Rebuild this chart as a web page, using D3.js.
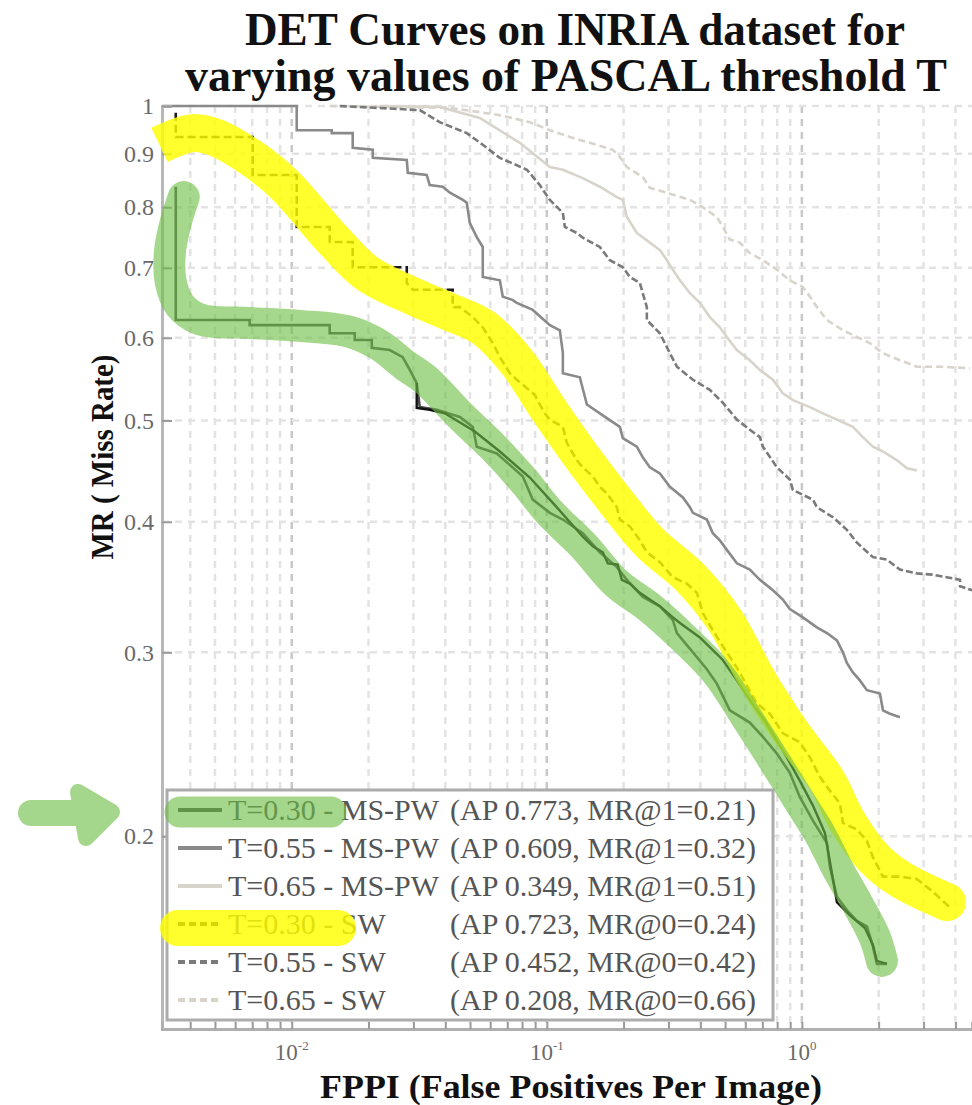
<!DOCTYPE html>
<html>
<head>
<meta charset="utf-8">
<script src="https://cdn.jsdelivr.net/npm/d3@7"></script>
<style>
  body { margin: 0; background: #fff; }
  svg { display: block; }
</style>
</head>
<body>
<svg id="chart" width="972" height="1105"></svg>
<script>
// ---- Series: [FPPI, miss rate] pairs ----
const msPw030 = [[0.00351,0.837],[0.00351,0.624],[0.00684,0.624],[0.00684,0.617],[0.01409,0.617],[0.01409,0.606],[0.01766,0.606],[0.01766,0.597],[0.0206,0.597],[0.0206,0.587],[0.02422,0.584],[0.02723,0.575],[0.02904,0.559],[0.0309,0.543],[0.03177,0.515],[0.03705,0.512],[0.0456,0.504],[0.05129,0.493],[0.05313,0.472],[0.06368,0.465],[0.08054,0.442],[0.0881,0.420],[0.1028,0.408],[0.1156,0.402],[0.1384,0.390],[0.1614,0.374],[0.1882,0.362],[0.206,0.352],[0.2379,0.339],[0.2775,0.332],[0.3121,0.322],[0.3236,0.313],[0.374,0.300],[0.424,0.289],[0.464,0.280],[0.5219,0.264],[0.6251,0.257],[0.7032,0.249],[0.7981,0.240],[0.897,0.230],[0.9822,0.218],[1.105,0.207],[1.254,0.197],[1.288,0.187],[1.372,0.175],[1.501,0.170],[1.644,0.166],[1.799,0.164],[1.899,0.157],[1.968,0.151],[2.155,0.151]];

const msPw055 = [[0.0031,1.0],[0.01046,1.0],[0.01046,0.948],[0.01435,0.948],[0.01435,0.942],[0.01734,0.942],[0.01734,0.912],[0.02078,0.908],[0.02078,0.892],[0.02825,0.888],[0.02851,0.863],[0.03382,0.859],[0.03475,0.840],[0.03908,0.837],[0.04169,0.826],[0.04688,0.813],[0.04856,0.808],[0.04989,0.773],[0.05313,0.749],[0.0561,0.733],[0.0561,0.686],[0.06546,0.681],[0.06718,0.657],[0.07362,0.652],[0.07625,0.648],[0.0881,0.638],[0.1028,0.617],[0.1125,0.610],[0.1156,0.580],[0.1156,0.555],[0.1347,0.550],[0.1436,0.518],[0.1614,0.508],[0.1933,0.493],[0.1986,0.481],[0.2254,0.472],[0.2379,0.461],[0.2534,0.451],[0.2775,0.445],[0.3038,0.432],[0.3416,0.422],[0.364,0.413],[0.374,0.408],[0.424,0.402],[0.4475,0.390],[0.4768,0.384],[0.508,0.376],[0.5562,0.365],[0.6251,0.360],[0.6846,0.352],[0.77,0.344],[0.8422,0.337],[0.897,0.330],[1.009,0.324],[1.145,0.317],[1.254,0.313],[1.372,0.308],[1.449,0.300],[1.501,0.293],[1.585,0.287],[1.688,0.282],[1.799,0.276],[2.023,0.274],[2.079,0.264],[2.215,0.262],[2.423,0.260]];

const msPw065 = [[0.02213,1.0],[0.03802,0.998],[0.05458,0.974],[0.0784,0.922],[0.1028,0.874],[0.1156,0.869],[0.1384,0.853],[0.1614,0.837],[0.1882,0.818],[0.1986,0.813],[0.206,0.783],[0.2254,0.756],[0.2534,0.740],[0.2775,0.728],[0.2957,0.712],[0.3121,0.697],[0.3325,0.681],[0.364,0.662],[0.3983,0.648],[0.4356,0.628],[0.4768,0.614],[0.508,0.601],[0.5562,0.584],[0.6251,0.571],[0.6846,0.559],[0.77,0.547],[0.8422,0.531],[0.9222,0.523],[1.075,0.515],[1.209,0.508],[1.372,0.501],[1.585,0.493],[1.734,0.482],[1.899,0.472],[2.079,0.467],[2.36,0.458],[2.582,0.450],[2.825,0.448]];

const sw030 = [[0.00351,0.985],[0.00351,0.934],[0.00703,0.934],[0.00703,0.859],[0.01046,0.859],[0.01046,0.766],[0.01409,0.766],[0.01409,0.741],[0.01734,0.741],[0.01734,0.701],[0.02825,0.701],[0.02825,0.677],[0.02985,0.667],[0.04276,0.667],[0.04276,0.642],[0.0456,0.642],[0.05129,0.628],[0.0561,0.614],[0.06138,0.593],[0.06546,0.575],[0.07161,0.555],[0.07625,0.547],[0.08353,0.537],[0.08974,0.529],[0.09391,0.518],[0.09822,0.508],[0.1028,0.501],[0.1156,0.493],[0.1198,0.476],[0.1312,0.458],[0.1384,0.451],[0.1515,0.442],[0.1614,0.432],[0.1718,0.426],[0.1882,0.413],[0.1933,0.402],[0.2116,0.396],[0.2316,0.384],[0.2467,0.374],[0.2775,0.366],[0.3121,0.354],[0.3542,0.349],[0.3877,0.342],[0.4093,0.327],[0.4475,0.315],[0.4898,0.304],[0.5562,0.290],[0.6664,0.268],[0.7495,0.262],[0.8422,0.251],[0.9822,0.246],[1.075,0.238],[1.177,0.228],[1.254,0.223],[1.41,0.215],[1.449,0.206],[1.644,0.203],[1.799,0.198],[1.899,0.191],[2.079,0.183],[2.423,0.183],[2.825,0.182],[3.265,0.177],[3.802,0.171]];

const sw055 = [[0.01542,1.0],[0.03177,0.991],[0.03802,0.965],[0.04856,0.942],[0.0561,0.918],[0.06546,0.892],[0.08353,0.869],[0.09391,0.840],[0.1028,0.813],[0.1156,0.790],[0.1177,0.766],[0.1312,0.756],[0.1384,0.748],[0.1614,0.733],[0.1766,0.712],[0.1986,0.701],[0.2116,0.686],[0.2316,0.677],[0.2467,0.642],[0.2467,0.624],[0.2775,0.606],[0.3038,0.580],[0.3236,0.563],[0.374,0.547],[0.4356,0.535],[0.4898,0.520],[0.5562,0.501],[0.6251,0.490],[0.6846,0.482],[0.7032,0.472],[0.7981,0.451],[0.897,0.439],[0.9222,0.429],[1.105,0.420],[1.145,0.413],[1.324,0.404],[1.501,0.393],[1.644,0.382],[1.899,0.370],[2.155,0.368],[2.423,0.360],[2.825,0.357],[3.265,0.356],[4.169,0.352],[4.169,0.347],[4.645,0.344]];

const sw065 = [[0.01409,1.0],[0.04169,0.996],[0.06546,0.980],[0.0858,0.965],[0.1028,0.948],[0.1231,0.934],[0.1475,0.922],[0.1815,0.908],[0.1933,0.894],[0.206,0.874],[0.2379,0.855],[0.2534,0.835],[0.2957,0.826],[0.364,0.813],[0.4093,0.800],[0.464,0.783],[0.4898,0.766],[0.5219,0.745],[0.5714,0.740],[0.6251,0.723],[0.7032,0.712],[0.7981,0.697],[0.897,0.681],[1.009,0.671],[1.075,0.657],[1.145,0.642],[1.254,0.624],[1.449,0.610],[1.644,0.601],[1.849,0.593],[2.079,0.580],[2.423,0.571],[2.825,0.563],[3.478,0.563],[4.56,0.561]];

// black run drawn alongside the T=0.30 MS-PW curve (not in the legend)
const blackRun = [[0.0309,0.543],[0.0309,0.514],[0.03475,0.512],[0.03981,0.508],[0.05224,0.488],[0.06546,0.467],[0.0858,0.441],[0.1075,0.415],[0.1384,0.387],[0.1515,0.379],[0.1658,0.374],[0.1734,0.365],[0.1897,0.364],[0.1968,0.352],[0.2116,0.349],[0.2316,0.342],[0.2534,0.337],[0.2775,0.332],[0.3121,0.324],[0.3325,0.320],[0.3983,0.310],[0.4898,0.295],[0.5562,0.282],[0.6251,0.270],[0.716,0.258],[0.8731,0.238],[0.9822,0.226],[1.105,0.214],[1.231,0.2015],[1.324,0.182],[1.372,0.173],[1.543,0.168],[1.767,0.1634],[1.899,0.1574],[1.968,0.152],[2.155,0.151]];

// hand-drawn highlighter strokes, in the same FPPI / miss-rate units
const greenMark = [[0.003771,0.818],[0.00351,0.774],[0.00333,0.725],[0.003353,0.679],[0.00364,0.645],[0.00436,0.625],[0.00684,0.620],[0.01074,0.616],[0.01687,0.608],[0.02213,0.590],[0.02773,0.565],[0.0335,0.547],[0.0456,0.506],[0.06138,0.472],[0.08054,0.439],[0.1028,0.408],[0.1384,0.380],[0.1882,0.349],[0.2534,0.331],[0.3416,0.310],[0.464,0.287],[0.6251,0.257],[0.8731,0.226],[0.991,0.215],[1.177,0.201],[1.384,0.186],[1.659,0.172],[1.933,0.160],[2.06,0.152]];
const yellowMark = [[0.00303,0.918],[0.00409,0.942],[0.00508,0.932],[0.00684,0.894],[0.00922,0.844],[0.01449,0.745],[0.01968,0.692],[0.0309,0.655],[0.04169,0.635],[0.0561,0.614],[0.07625,0.569],[0.1028,0.510],[0.1384,0.460],[0.1882,0.417],[0.2534,0.382],[0.364,0.354],[0.4987,0.322],[0.6719,0.282],[0.9137,0.251],[1.254,0.226],[1.501,0.207],[1.899,0.191],[2.423,0.182],[3.707,0.173]];

const seriesLabels = ["T=0.30 - MS-PW","T=0.55 - MS-PW","T=0.65 - MS-PW","T=0.30 - SW","T=0.55 - SW","T=0.65 - SW"];
const seriesStats = ["(AP 0.773, MR@1=0.21)","(AP 0.609, MR@1=0.32)","(AP 0.349, MR@1=0.51)","(AP 0.723, MR@0=0.24)","(AP 0.452, MR@0=0.42)","(AP 0.208, MR@0=0.66)"];
const yTickValues = [0.2,0.3,0.4,0.5,0.6,0.7,0.8,0.9,1];
const xTickExponents = [-2,-1,0];
const titleLines = ["DET Curves on INRIA dataset for","varying values of PASCAL threshold T"];

// ---- Styles ----
const seriesData = [msPw030, msPw055, msPw065, sw030, sw055, sw065];
const seriesColor = ["#4a4a4a","#8a8a8a","#d8d4cc","#1a1a1a","#7a7a7a","#d8d4cc"];
const seriesDash  = [null,null,null,"8,4","7,3","7,4"];
const GREEN = "rgb(110,190,70)", GREEN_OP = 0.62;
const YELLOW = "rgb(255,255,0)", YELLOW_OP = 0.82;

const W = 972, H = 1105;
const P = {left:162, right:972, top:106, bottom:1029};
const serif = "'Liberation Serif','Times New Roman',serif";

const x = d3.scaleLog().domain([0.0031, 4.645]).range([P.left, P.right]);
const y = d3.scaleLog().domain([0.1308, 1]).range([P.bottom, P.top]);

const svg = d3.select("#chart");
svg.append("rect").attr("width",W).attr("height",H).attr("fill","#fff");

const defs = svg.append("defs");
defs.append("clipPath").attr("id","plotClip")
  .append("rect").attr("x",P.left).attr("y",P.top-3).attr("width",P.right-P.left).attr("height",P.bottom-P.top+3);

// ---- Grid ----
const xGrid = x.ticks();
const isDecade = d => Math.abs(Math.log10(d) - Math.round(Math.log10(d))) < 1e-9;
const grid = svg.append("g");
grid.selectAll("line.gx").data(xGrid).join("line")
  .attr("x1",d=>x(d)).attr("x2",d=>x(d)).attr("y1",P.top).attr("y2",P.bottom)
  .attr("stroke",d=>isDecade(d)?"#c8c8c8":"#e3e3e3").attr("stroke-width",2.5)
  .attr("stroke-dasharray","7,6");
grid.selectAll("line.gy").data(yTickValues).join("line")
  .attr("x1",P.left).attr("x2",P.right).attr("y1",d=>y(d)).attr("y2",d=>y(d))
  .attr("stroke","#e3e3e3").attr("stroke-width",2.5).attr("stroke-dasharray","7,6");

// ---- Curves ----
const line = d3.line().x(d=>x(d[0])).y(d=>y(d[1]));
const curves = svg.append("g").attr("clip-path","url(#plotClip)");
// light curves first so the darker ones sit on top
[2,5,1,4,0,3].forEach(i=>{
  curves.append("path").datum(seriesData[i]).attr("d",line)
    .attr("fill","none").attr("stroke",seriesColor[i]).attr("stroke-width",2.6)
    .attr("stroke-dasharray",seriesDash[i]);
});
curves.append("path").datum(blackRun).attr("d",line)
  .attr("fill","none").attr("stroke","#111").attr("stroke-width",2.4);

// ---- Axes ----
const yAxis = d3.axisLeft(y).tickValues(yTickValues).tickSize(-10).tickPadding(8)
  .tickFormat(d=> d===1 ? "1" : d3.format(".1f")(d));
const gy = svg.append("g").attr("transform",`translate(${P.left},0)`).call(yAxis);
gy.select(".domain").attr("stroke","#b8b8b8").attr("stroke-width",3);
gy.selectAll(".tick line").attr("stroke","#9a9a9a").attr("stroke-width",2);
gy.selectAll(".tick text").attr("font-family",serif).attr("font-size",24).attr("fill","#6a6a6a");

const xAxis = d3.axisBottom(x).tickValues(xGrid).tickSize(-7).tickFormat("");
const gx = svg.append("g").attr("transform",`translate(0,${P.bottom})`).call(xAxis);
gx.select(".domain").attr("stroke","#b0b0b0").attr("stroke-width",3);
gx.selectAll(".tick line").attr("stroke","#9a9a9a").attr("stroke-width",2);
gx.selectAll(".tick text").remove();
const xLab = svg.append("g").attr("font-family",serif).attr("fill","#6a6a6a");
xTickExponents.forEach(e=>{
  const t = xLab.append("text").attr("x",x(Math.pow(10,e))).attr("y",P.bottom+31)
    .attr("text-anchor","middle").attr("font-size",23);
  t.append("tspan").text("10");
  t.append("tspan").attr("dy",-10).attr("font-size",13).text(String(e));
});

// ---- Legend ----
const L = {x:167, y:790, w:606, h:230, row:38};
const leg = svg.append("g");
leg.append("rect").attr("x",L.x).attr("y",L.y).attr("width",L.w).attr("height",L.h)
  .attr("fill","#fff").attr("stroke","#acacac").attr("stroke-width",3);
seriesLabels.forEach((lab,i)=>{
  const cy = L.y + 20 + i*L.row;
  leg.append("line").attr("x1",L.x+11).attr("x2",L.x+55).attr("y1",cy).attr("y2",cy)
    .attr("stroke",seriesColor[i]).attr("stroke-width",4)
    .attr("stroke-dasharray",seriesDash[i] ? "7,4" : null);
  leg.append("text").attr("x",L.x+61).attr("y",cy+10)
    .attr("font-family",serif).attr("font-size",30).attr("fill","#555").text(lab);
  leg.append("text").attr("x",L.x+283).attr("y",cy+10)
    .attr("font-family",serif).attr("font-size",30).attr("fill","#555").text(seriesStats[i]);
});

// ---- Highlighter strokes (each group is opaque inside, translucent as a whole) ----
const smooth = d3.line().x(d=>x(d[0])).y(d=>y(d[1])).curve(d3.curveCatmullRom.alpha(0.5));
const yellowLayer = svg.append("g").attr("opacity",YELLOW_OP);
yellowLayer.append("path").datum(yellowMark).attr("d",smooth)
  .attr("fill","none").attr("stroke",YELLOW).attr("stroke-width",38)
  .attr("stroke-linecap","butt").attr("stroke-linejoin","round");
const yEnd = yellowMark[yellowMark.length-1];
yellowLayer.append("circle").attr("cx",x(yEnd[0])).attr("cy",y(yEnd[1])).attr("r",19).attr("fill",YELLOW);
yellowLayer.append("line").attr("x1",178).attr("x2",338).attr("y1",928).attr("y2",928)
  .attr("stroke",YELLOW).attr("stroke-width",36).attr("stroke-linecap","round");

const greenLayer = svg.append("g").attr("opacity",GREEN_OP);
greenLayer.append("path").datum(greenMark).attr("d",smooth)
  .attr("fill","none").attr("stroke",GREEN).attr("stroke-width",32)
  .attr("stroke-linecap","round").attr("stroke-linejoin","round");
greenLayer.append("line").attr("x1",180).attr("x2",331).attr("y1",812).attr("y2",812)
  .attr("stroke",GREEN).attr("stroke-width",31).attr("stroke-linecap","round");
// arrow pointing at the first legend entry
const arrow = greenLayer.append("g").attr("fill",GREEN).attr("stroke",GREEN)
  .attr("stroke-linejoin","round").attr("stroke-linecap","round");
arrow.append("line").attr("x1",31).attr("x2",82).attr("y1",813).attr("y2",813).attr("stroke-width",26);
arrow.append("path").attr("d","M78,792 L112,812 L86,838 Z").attr("stroke-width",16);

// ---- Titles ----
const titles = svg.append("g").attr("font-family",serif).attr("font-weight","bold").attr("fill","#111");
titles.append("text").attr("x",575).attr("y",45).attr("text-anchor","middle").attr("font-size",46)
  .attr("textLength",660).attr("lengthAdjust","spacingAndGlyphs").text(titleLines[0]);
titles.append("text").attr("x",566).attr("y",91).attr("text-anchor","middle").attr("font-size",46)
  .attr("textLength",762).attr("lengthAdjust","spacingAndGlyphs").text(titleLines[1]);
titles.append("text").attr("x",571).attr("y",1098).attr("text-anchor","middle").attr("font-size",33)
  .attr("textLength",502).attr("lengthAdjust","spacingAndGlyphs").text("FPPI (False Positives Per Image)");
titles.append("text").attr("transform","translate(113,457) rotate(-90)").attr("text-anchor","middle")
  .attr("font-size",31).attr("textLength",205).attr("lengthAdjust","spacingAndGlyphs").text("MR ( Miss Rate)");
</script>
</body>
</html>
